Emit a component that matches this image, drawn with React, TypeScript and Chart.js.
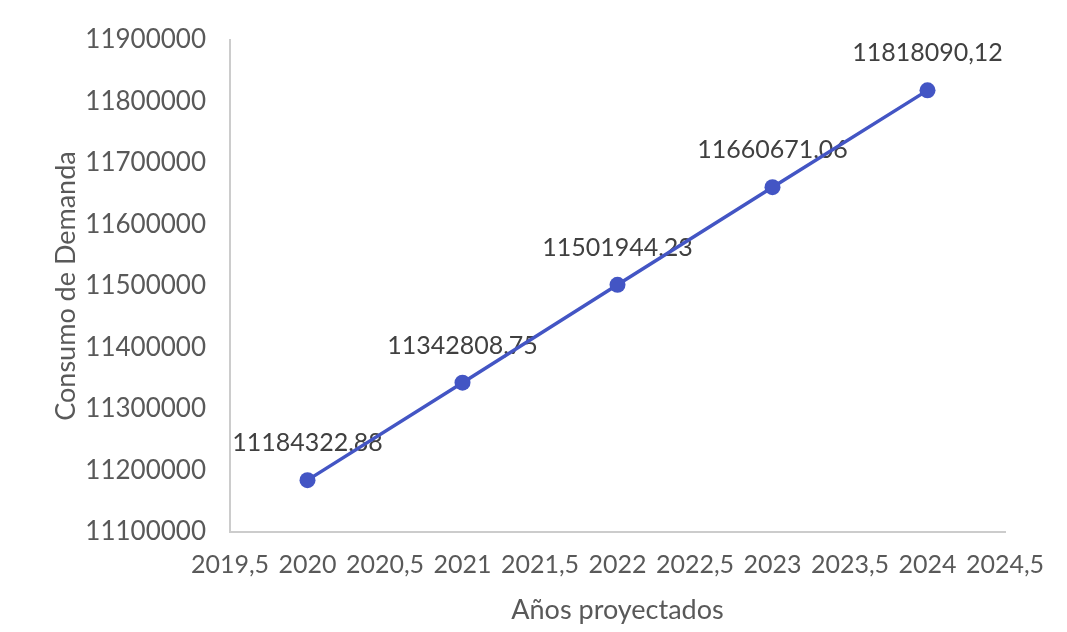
import React, { useEffect, useRef } from "react";
import { Chart, registerables } from "chart.js";

Chart.register(...registerables);

const years: number[] = [2020, 2021, 2022, 2023, 2024];
const consumo: number[] = [11184322.88, 11342808.75, 11501944.23, 11660671.06, 11818090.12];
const xMin = 2019.5;
const xMax = 2024.5;
const xStep = 0.5;
const yMin = 11100000;
const yMax = 11900000;
const yStep = 100000;
const xTitle = "Años proyectados";
const yTitle = "Consumo de Demanda";

const FONT = "Lato, 'Open Sans', sans-serif";
const TEXT = "#595959";
const LINE = "#4355C4";

const fmt = (v: number) => v.toFixed(2).replace(".", ",");

const labelPlugin = {
  id: "pointLabels",
  beforeDatasetsDraw(chart: any) {
    const ctx = chart.ctx;
    const meta = chart.getDatasetMeta(0);
    ctx.save();
    ctx.font = `25px ${FONT}`;
    ctx.fillStyle = "#404040";
    ctx.textAlign = "center";
    ctx.textBaseline = "middle";
    meta.data.forEach((pt: any, i: number) => {
      ctx.fillText(fmt(consumo[i]), pt.x, pt.y - 37);
    });
    ctx.restore();
  },
};

export default function App() {
  const ref = useRef<HTMLCanvasElement>(null);
  useEffect(() => {
    if (!ref.current) return;
    const chart = new Chart(ref.current, {
      type: "scatter",
      data: {
        datasets: [
          {
            data: years.map((y, i) => ({ x: y, y: consumo[i] })),
            showLine: true,
            borderColor: LINE,
            backgroundColor: LINE,
            borderWidth: 3.5,
            pointRadius: 8,
            pointBorderWidth: 0,
          },
        ],
      },
      options: {
        responsive: false,
        animation: false,
        layout: { padding: { top: 40, right: 62, left: 0, bottom: 0 } },
        plugins: { legend: { display: false }, tooltip: { enabled: false } },
        scales: {
          x: {
            type: "linear",
            min: xMin,
            max: xMax,
            grid: { display: false, drawTicks: false },
            border: { display: true, color: "#cccccc", width: 2 },
            ticks: {
              stepSize: xStep,
              padding: 18,
              color: TEXT,
              font: { family: FONT, size: 25 },
              maxRotation: 0,
              autoSkip: false,
              callback: (v: any) => String(v).replace(".", ","),
            },
            title: {
              display: true,
              text: xTitle,
              color: TEXT,
              font: { family: FONT, size: 27 },
              padding: { top: 0, bottom: 6 },
            },
            afterFit: (s: any) => {
              s.height = 100;
            },
          },
          y: {
            type: "linear",
            min: yMin,
            max: yMax,
            grid: { display: false, drawTicks: false },
            border: { display: true, color: "#cccccc", width: 2 },
            ticks: {
              stepSize: yStep,
              padding: 24,
              color: TEXT,
              font: { family: FONT, size: 26 },
              callback: (v: any) => String(v),
            },
            title: {
              display: true,
              text: yTitle,
              color: TEXT,
              font: { family: FONT, size: 27 },
              padding: { top: 50, bottom: 0 },
            },
            afterFit: (s: any) => {
              s.width = 230;
            },
          },
        },
      },
      plugins: [labelPlugin],
    });
    return () => chart.destroy();
  }, []);
  return (
    <div style={{ position: "fixed", left: 0, top: 0, width: 1067, height: 632, background: "#fff" }}>
      <canvas ref={ref} width={1067} height={632} />
    </div>
  );
}
